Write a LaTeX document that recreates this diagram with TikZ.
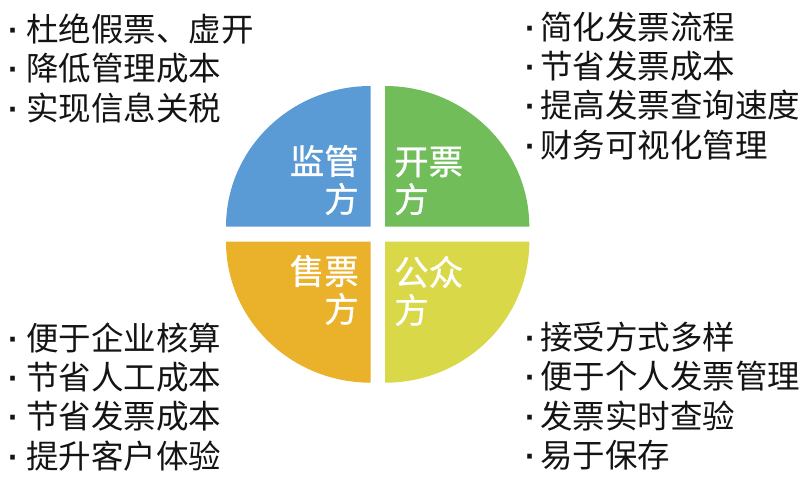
\documentclass[tikz,border=0pt]{standalone}
\usepackage{fontspec}
\setmainfont{Noto Sans CJK SC}
\newfontfamily\cjk{Noto Sans CJK SC}
\newfontfamily\cjkmed[FakeBold=0.8]{Noto Sans CJK SC}
\newfontfamily\latindot{Liberation Sans}
\newcommand{\bdot}[1]{{\latindot\bfseries ·}\hspace{#1}}
\definecolor{qblue}{RGB}{91,155,213}
\definecolor{qgreen}{RGB}{112,189,90}
\definecolor{qorange}{RGB}{234,177,42}
\definecolor{qyellow}{RGB}{217,216,72}
\definecolor{txt}{RGB}{20,20,20}
\begin{document}
\begin{tikzpicture}[x=1pt,y=-1pt,
  bullet/.style={anchor=west,inner sep=0pt,text=txt,font=\cjk\fontsize{32.5}{32.5}\selectfont},
  qlabel/.style={inner sep=0pt,text=white,font=\cjkmed\fontsize{34.5}{38}\selectfont}]
\useasboundingbox (0,0) rectangle (810,481);
% quadrants (exploded pie)
\fill[qblue] (370.7,226.7) coordinate (cb) -- ++(-144.7,0) arc[start angle=180,end angle=90,x radius=144.7,y radius=-140.7] -- cycle;
\fill[qgreen] (385,226.7) coordinate (cg) -- ++(144.3,0) arc[start angle=0,end angle=90,x radius=144.3,y radius=-140.7] -- cycle;
\fill[qorange] (370.7,241.7) coordinate (co) -- ++(-144.7,0) arc[start angle=180,end angle=270,x radius=144.7,y radius=-141] -- cycle;
\fill[qyellow] (385,241.7) coordinate (cy) -- ++(144.3,0) arc[start angle=0,end angle=-90,x radius=144.3,y radius=-141] -- cycle;
% labels
\node[qlabel,anchor=east,align=right] (lb) at (359,180) {监管\\方};
\node[qlabel,anchor=west,align=left] (lg) at (394,181) {开票\\方};
\node[qlabel,anchor=east,align=right] (lo) at (359,290) {售票\\方};
\node[qlabel,anchor=west,align=left] (ly) at (394,291) {公众\\方};
% top-left
\node[bullet] (tl1) at (8,29) {\bdot{7pt}杜绝假票、虚开};
\node[bullet] (tl2) at (8,68.3) {\bdot{7pt}降低管理成本};
\node[bullet] (tl3) at (8,107.6) {\bdot{7pt}实现信息关税};
% top-right
\node[bullet] (tr1) at (525,27) {\bdot{4pt}简化发票流程};
\node[bullet] (tr2) at (525,66.3) {\bdot{4pt}节省发票成本};
\node[bullet] (tr3) at (525,105.6) {\bdot{4pt}提高发票查询速度};
\node[bullet] (tr4) at (525,145) {\bdot{4pt}财务可视化管理};
% bottom-left
\node[bullet] (bl1) at (8,338) {\bdot{7pt}便于企业核算};
\node[bullet] (bl2) at (8,377.3) {\bdot{7pt}节省人工成本};
\node[bullet] (bl3) at (8,416.6) {\bdot{7pt}节省发票成本};
\node[bullet] (bl4) at (8,456) {\bdot{7pt}提升客户体验};
% bottom-right
\node[bullet] (br1) at (525,337) {\bdot{4pt}接受方式多样};
\node[bullet] (br2) at (525,376.3) {\bdot{4pt}便于个人发票管理};
\node[bullet] (br3) at (525,415.6) {\bdot{4pt}发票实时查验};
\node[bullet] (br4) at (525,455) {\bdot{4pt}易于保存};
\end{tikzpicture}
\end{document}
